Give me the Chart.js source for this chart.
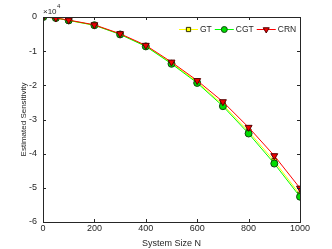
<!DOCTYPE html>
<html><head><meta charset="utf-8">
<script src="https://cdn.jsdelivr.net/npm/chart.js@4/dist/chart.umd.min.js"></script>
<style>html,body{margin:0;padding:0;background:#fff}#w{width:332px;height:249px;position:relative}</style>
</head><body><div id="w"><canvas id="c"></canvas></div>
<script>
const sizes = [1, 50, 100, 200, 300, 400, 500, 600, 700, 800, 900, 1000];
const gtValues  = [0, -0.03, -0.10, -0.24, -0.50, -0.85, -1.35, -1.90, -2.57, -3.35, -4.22, -5.20];
const cgtValues = [0, -0.03, -0.10, -0.24, -0.51, -0.86, -1.37, -1.93, -2.61, -3.41, -4.29, -5.26];
const crnValues = [0, -0.03, -0.09, -0.23, -0.49, -0.83, -1.32, -1.86, -2.48, -3.23, -4.06, -5.01];
const xTicks = [0, 200, 400, 600, 800, 1000];
const yTicks = [0, -1, -2, -3, -4, -5, -6];
const seriesNames = ['GT', 'CGT', 'CRN'];
const xTitle = 'System Size N';
const yTitle = 'Estimated Sensitivity';

const axisColor = '#262626';
const FONT = 'Helvetica, "Liberation Sans", Arial, sans-serif';

function pts(vals){ return sizes.map((x,i)=>({x, y: vals[i]})); }

function drawMarker(ctx, d, x, y, r){
  ctx.save();
  ctx.fillStyle = d.pointBackgroundColor;
  ctx.strokeStyle = d.pointBorderColor;
  ctx.lineWidth = 1;
  Chart.helpers.drawPoint(ctx, {pointStyle: d.pointStyle, rotation: d.pointRotation||0, radius: r, borderWidth: 1}, x, y);
  ctx.restore();
}

const boxPlugin = {
  id: 'box',
  afterDraw(chart){
    const {ctx, chartArea:a, scales:{x, y}} = chart;
    ctx.save();
    ctx.strokeStyle = axisColor; ctx.lineWidth = 1;
    ctx.strokeRect(Math.round(a.left)+0.5, Math.round(a.top)+0.5, Math.round(a.right-a.left), Math.round(a.bottom-a.top));
    const tl = 3;
    ctx.beginPath();
    xTicks.forEach(v=>{
      const px = Math.round(x.getPixelForValue(v))+0.5;
      ctx.moveTo(px, a.bottom); ctx.lineTo(px, a.bottom - tl);
      ctx.moveTo(px, a.top); ctx.lineTo(px, a.top + tl);
    });
    yTicks.forEach(v=>{
      const py = Math.round(y.getPixelForValue(v))+0.5;
      ctx.moveTo(a.left, py); ctx.lineTo(a.left + tl, py);
      ctx.moveTo(a.right, py); ctx.lineTo(a.right - tl, py);
    });
    ctx.stroke();
    // exponent label
    ctx.fillStyle = axisColor;
    ctx.font = '8px ' + FONT;
    ctx.textBaseline = 'alphabetic'; ctx.textAlign = 'left';
    ctx.fillText('\u00d710', a.left + 0, a.top - 3);
    ctx.font = '6px ' + FONT;
    ctx.fillText('4', a.left + 14, a.top - 9);
    // legend
    const ds = chart.data.datasets;
    let lx = 179; const ly = 29;
    ctx.font = '8.5px ' + FONT;
    ctx.textBaseline = 'middle';
    ds.forEach((d)=>{
      ctx.strokeStyle = d.borderColor; ctx.lineWidth = 1;
      ctx.beginPath(); ctx.moveTo(lx, ly+0.5); ctx.lineTo(lx+19, ly+0.5); ctx.stroke();
      drawMarker(ctx, d, lx+9.5, ly+0.5, d.pointRadius - 0.5);
      ctx.fillStyle = axisColor;
      ctx.fillText(d.label, lx + 21, ly + 0.5);
      lx += 21 + ctx.measureText(d.label).width + 3;
    });
    ctx.restore();
  }
};

const chart = new Chart(document.getElementById('c'), {
  type: 'line',
  data: {
    datasets: [
      {label: seriesNames[0], order: 2, data: pts(gtValues), borderColor: '#ffff00', backgroundColor: '#ffff00',
       pointBackgroundColor: '#ffff00', pointBorderColor: '#333300', pointStyle: 'rect', pointRadius: 3.5, borderWidth: 1, pointBorderWidth: 1},
      {label: seriesNames[1], order: 1, data: pts(cgtValues), borderColor: '#00ff00', backgroundColor: '#00ff00',
       pointBackgroundColor: '#00dd00', pointBorderColor: '#114411', pointStyle: 'circle', pointRadius: 3.5, borderWidth: 1, pointBorderWidth: 1},
      {label: seriesNames[2], order: 0, data: pts(crnValues), borderColor: '#ff0000', backgroundColor: '#ff0000',
       pointBackgroundColor: '#ee0000', pointBorderColor: '#550000', pointStyle: 'triangle', pointRotation: 180, pointRadius: 4, borderWidth: 1, pointBorderWidth: 1}
    ]
  },
  options: {
    responsive: true, maintainAspectRatio: false, animation: false,
    devicePixelRatio: 1,
    layout: {padding: {left: 0, right: 32, top: 17, bottom: 0}},
    plugins: {legend: {display: false}, tooltip: {enabled: false}},
    elements: {line: {tension: 0}},
    scales: {
      x: {
        type: 'linear', min: 0, max: 1000,
        afterBuildTicks(s){ s.ticks = xTicks.map(v=>({value: v})); },
        afterFit(s){ s.height = 27; },
        grid: {display: false, drawTicks: false},
        border: {display: false},
        ticks: {color: axisColor, font: {size: 9, family: FONT}, padding: 1, maxRotation: 0, autoSkip: false,
                callback: v => String(v)},
        title: {display: true, text: xTitle, color: axisColor, font: {size: 9, family: FONT}, padding: {top: 1, bottom: 0}}
      },
      y: {
        type: 'linear', min: -6, max: 0,
        afterBuildTicks(s){ s.ticks = yTicks.map(v=>({value: v})); },
        afterFit(s){ s.width = 43; },
        grid: {display: false, drawTicks: false},
        border: {display: false},
        ticks: {color: axisColor, font: {size: 9, family: FONT}, padding: 6, autoSkip: false,
                callback: v => String(v)},
        title: {display: true, text: yTitle, color: axisColor, font: {size: 8, family: FONT}, padding: {top: 18.5, bottom: 0}}
      }
    }
  },
  plugins: [boxPlugin]
});
</script></body></html>
